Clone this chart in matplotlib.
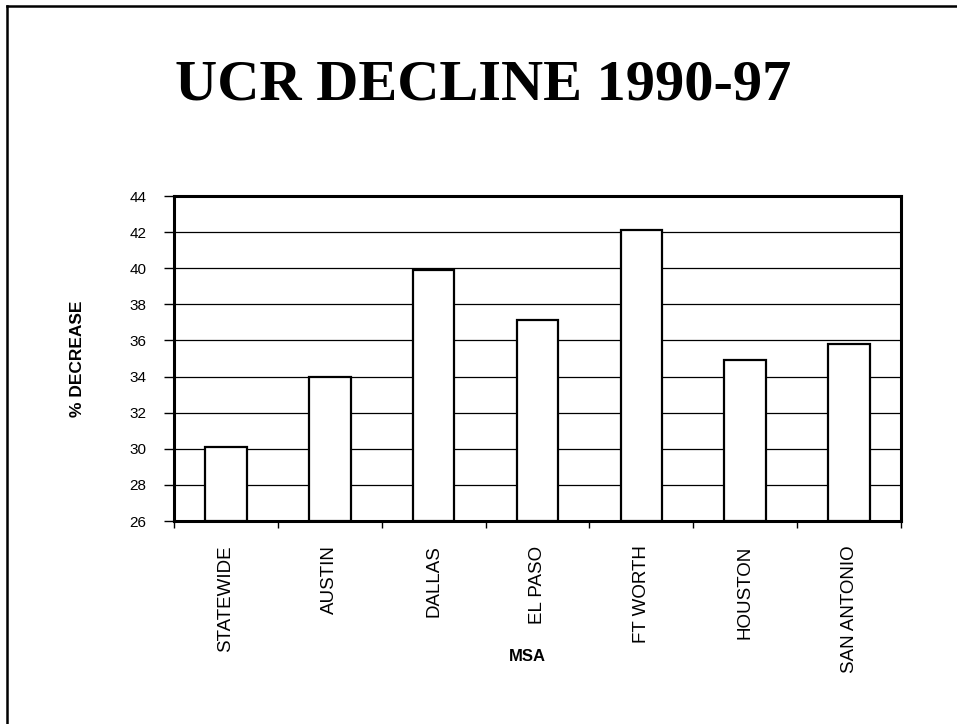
import matplotlib
matplotlib.use('Agg')
import matplotlib.pyplot as plt
from matplotlib.lines import Line2D

# data
msa = ['STATEWIDE', 'AUSTIN', 'DALLAS', 'EL PASO', 'FT WORTH', 'HOUSTON', 'SAN ANTONIO']
pct_decrease = [30.1, 34.0, 39.9, 37.15, 42.1, 34.9, 35.8]
yticks = [26, 28, 30, 32, 34, 36, 38, 40, 42, 44]

plt.rcParams['font.family'] = ['Liberation Sans', 'DejaVu Sans']

fig = plt.figure(figsize=(9.57, 7.24), dpi=100)
fig.patch.set_facecolor('white')

# page border (left + top only, like the scan)
fig.add_artist(Line2D([7/957, 7/957], [0, 1 - 6/724], transform=fig.transFigure, color='black', lw=1.8))
fig.add_artist(Line2D([7/957, 1], [1 - 6/724, 1 - 6/724], transform=fig.transFigure, color='black', lw=1.8))

fig.text(0.505, 1 - 100/724, 'UCR DECLINE 1990-97', family='Liberation Serif', fontweight='bold',
         fontsize=42, ha='center', va='baseline')

ax = fig.add_axes([174/957, 1 - 521/724, (901 - 174)/957, (521 - 196)/724])
x = list(range(len(msa)))
ax.bar(x, [v - 26 for v in pct_decrease], bottom=26, width=0.4, color='white',
       edgecolor='black', linewidth=1.6, zorder=3)

ax.set_xlim(-0.5, len(msa) - 0.5)
ax.set_ylim(26, 44)
ax.set_yticks(yticks)
ax.set_yticklabels([str(t) for t in yticks], fontsize=11)
ax.yaxis.grid(True, color='black', lw=0.9, zorder=0)
ax.set_axisbelow(True)

# category boundaries get the ticks, labels sit at bar centres
ax.set_xticks([i - 0.5 for i in range(len(msa) + 1)])
ax.set_xticklabels([])
ax.tick_params(axis='x', direction='out', length=5, width=1, color='black')
ax.tick_params(axis='y', direction='out', length=7, width=1, pad=13)
for i, name in enumerate(msa):
    ax.text(i, -0.075, name, transform=ax.get_xaxis_transform(), rotation=90,
            ha='center', va='top', fontsize=13.5)

for side in ['top', 'bottom', 'left', 'right']:
    ax.spines[side].set_linewidth(2.2)
    ax.spines[side].set_color('black')

ax.set_ylabel('% DECREASE', fontsize=12.5, fontweight='bold')
ax.yaxis.set_label_coords(-0.122, 0.5)
ax.set_xlabel('MSA', fontsize=12, fontweight='bold')
ax.xaxis.set_label_coords(0.486, -0.395)

fig.savefig('out.png', dpi=100, facecolor='white')
